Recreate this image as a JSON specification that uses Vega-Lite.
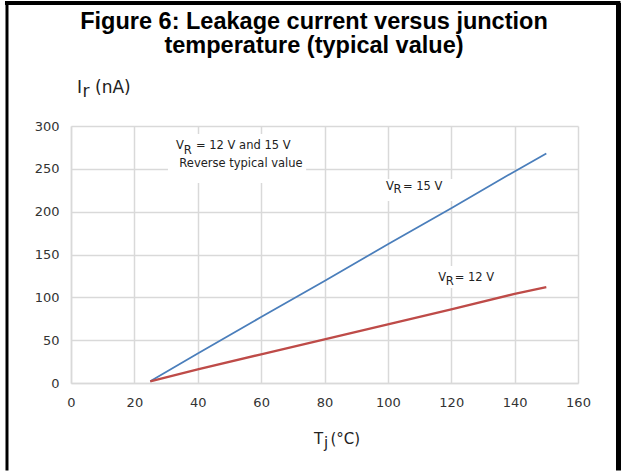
{
  "$schema": "https://vega.github.io/schema/vega-lite/v6.json",
  "width": 507,
  "height": 257,
  "padding": {"left": 4, "top": 0, "right": 0, "bottom": 0},
  "background": "white",
  "config": {
    "view": {"stroke": null},
    "font": "DejaVu Sans",
    "axis": {
      "grid": true,
      "gridColor": "#d9d9d9",
      "gridWidth": 1.5,
      "domainColor": "#d9d9d9",
      "domainWidth": 1.5,
      "ticks": false,
      "tickSize": 0,
      "labelFont": "DejaVu Sans",
      "labelFontSize": 13,
      "labelColor": "#333333",
      "labelFlush": false,
      "labelOverlap": false,
      "title": null
    },
    "axisX": {"labelPadding": 13},
    "axisY": {"labelPadding": 12}
  },
  "layer": [
    {
      "data": {"values": [{}]},
      "mark": {"type": "rule", "stroke": "black", "strokeWidth": 4, "strokeCap": "square"},
      "encoding": {
        "x": {"datum": -20.2, "type": "quantitative", "scale": {"domain": [0, 160], "nice": false}},
        "x2": {"datum": 172.78},
        "y": {"datum": 443.58, "type": "quantitative", "scale": {"domain": [0, 300], "nice": false}}
      }
    },
    {
      "data": {"values": [{}]},
      "mark": {"type": "rule", "stroke": "black", "strokeWidth": 3},
      "encoding": {
        "x": {"datum": -20.2, "type": "quantitative", "scale": {"domain": [0, 160], "nice": false}},
        "y": {"datum": 443.58, "type": "quantitative", "scale": {"domain": [0, 300], "nice": false}},
        "y2": {"datum": -102}
      }
    },
    {
      "data": {"values": [{}]},
      "mark": {"type": "rule", "stroke": "black", "strokeWidth": 5},
      "encoding": {
        "x": {"datum": 172.78, "type": "quantitative", "scale": {"domain": [0, 160], "nice": false}},
        "y": {"datum": 443.58, "type": "quantitative", "scale": {"domain": [0, 300], "nice": false}},
        "y2": {"datum": -102}
      }
    },
    {
      "data": {"values": [{}]},
      "mark": {"type": "rect", "fill": "white", "stroke": null},
      "encoding": {
        "x": {"datum": 30.6, "type": "quantitative", "scale": {"domain": [0, 160], "nice": false}},
        "x2": {"datum": 74.2},
        "y": {"datum": 290.7, "type": "quantitative", "scale": {"domain": [0, 300], "nice": false}},
        "y2": {"datum": 233.5}
      }
    },
    {
      "data": {"values": [{}]},
      "mark": {"type": "rect", "fill": "white", "stroke": null},
      "encoding": {
        "x": {"datum": 97.8, "type": "quantitative", "scale": {"domain": [0, 160], "nice": false}},
        "x2": {"datum": 121.5},
        "y": {"datum": 238.1, "type": "quantitative", "scale": {"domain": [0, 300], "nice": false}},
        "y2": {"datum": 212.4}
      }
    },
    {
      "data": {"values": [{}]},
      "mark": {"type": "rect", "fill": "white", "stroke": null},
      "encoding": {
        "x": {"datum": 114.2, "type": "quantitative", "scale": {"domain": [0, 160], "nice": false}},
        "x2": {"datum": 137.3},
        "y": {"datum": 136.6, "type": "quantitative", "scale": {"domain": [0, 300], "nice": false}},
        "y2": {"datum": 110.9}
      }
    },
    {
      "data": {
        "values": [
          {"series": "15 V", "T": 25, "I": 2},
          {"series": "15 V", "T": 40, "I": 34.5},
          {"series": "15 V", "T": 60, "I": 77},
          {"series": "15 V", "T": 80, "I": 119},
          {"series": "15 V", "T": 100, "I": 162},
          {"series": "15 V", "T": 120, "I": 204},
          {"series": "15 V", "T": 140, "I": 247},
          {"series": "15 V", "T": 150, "I": 268},
          {"series": "12 V", "T": 25, "I": 2},
          {"series": "12 V", "T": 40, "I": 16},
          {"series": "12 V", "T": 60, "I": 33.5},
          {"series": "12 V", "T": 80, "I": 51},
          {"series": "12 V", "T": 100, "I": 68.5},
          {"series": "12 V", "T": 120, "I": 86},
          {"series": "12 V", "T": 140, "I": 104},
          {"series": "12 V", "T": 150, "I": 112}
        ]
      },
      "mark": {"type": "line", "strokeCap": "butt"},
      "encoding": {
        "x": {
          "field": "T", "type": "quantitative",
          "scale": {"domain": [0, 160], "nice": false},
          "axis": {"values": [0, 20, 40, 60, 80, 100, 120, 140, 160]}
        },
        "y": {
          "field": "I", "type": "quantitative",
          "scale": {"domain": [0, 300], "nice": false},
          "axis": {"values": [0, 50, 100, 150, 200, 250, 300]}
        },
        "color": {
          "field": "series", "type": "nominal",
          "scale": {"domain": ["15 V", "12 V"], "range": ["#4a7ebb", "#be4b48"]},
          "legend": null
        },
        "strokeWidth": {
          "field": "series", "type": "nominal",
          "scale": {"domain": ["15 V", "12 V"], "range": [1.75, 2.25]},
          "legend": null
        }
      }
    },
    {
      "data": {"values": [{}]},
      "mark": {"type": "text", "text": "Figure 6: Leakage current versus junction", "font": "Liberation Sans", "fontSize": 23.5, "fontWeight": "bold", "color": "black", "align": "center", "baseline": "alphabetic", "dx": -10.5, "dy": -97},
      "encoding": {
        "x": {"datum": 80, "type": "quantitative", "scale": {"domain": [0, 160], "nice": false}},
        "y": {"datum": 300, "type": "quantitative", "scale": {"domain": [0, 300], "nice": false}}
      }
    },
    {
      "data": {"values": [{}]},
      "mark": {"type": "text", "text": "temperature (typical value)", "font": "Liberation Sans", "fontSize": 23.5, "fontWeight": "bold", "color": "black", "align": "center", "baseline": "alphabetic", "dx": -10.5, "dy": -73},
      "encoding": {
        "x": {"datum": 80, "type": "quantitative", "scale": {"domain": [0, 160], "nice": false}},
        "y": {"datum": 300, "type": "quantitative", "scale": {"domain": [0, 300], "nice": false}}
      }
    },
    {
      "data": {"values": [{}]},
      "mark": {"type": "text", "text": "I", "fontSize": 17, "color": "#222222", "align": "left", "baseline": "alphabetic", "dx": 6, "dy": -33.3},
      "encoding": {
        "x": {"datum": 0, "type": "quantitative", "scale": {"domain": [0, 160], "nice": false}},
        "y": {"datum": 300, "type": "quantitative", "scale": {"domain": [0, 300], "nice": false}}
      }
    },
    {
      "data": {"values": [{}]},
      "mark": {"type": "text", "text": "r", "fontSize": 17, "color": "#222222", "align": "left", "baseline": "alphabetic", "dx": 11.5, "dy": -29},
      "encoding": {
        "x": {"datum": 0, "type": "quantitative", "scale": {"domain": [0, 160], "nice": false}},
        "y": {"datum": 300, "type": "quantitative", "scale": {"domain": [0, 300], "nice": false}}
      }
    },
    {
      "data": {"values": [{}]},
      "mark": {"type": "text", "text": "(nA)", "fontSize": 17, "color": "#222222", "align": "left", "baseline": "alphabetic", "dx": 24, "dy": -33.3},
      "encoding": {
        "x": {"datum": 0, "type": "quantitative", "scale": {"domain": [0, 160], "nice": false}},
        "y": {"datum": 300, "type": "quantitative", "scale": {"domain": [0, 300], "nice": false}}
      }
    },
    {
      "data": {"values": [{}]},
      "mark": {"type": "text", "text": "T", "fontSize": 15, "color": "#222222", "align": "left", "baseline": "alphabetic", "dx": -10.5, "dy": 61},
      "encoding": {
        "x": {"datum": 80, "type": "quantitative", "scale": {"domain": [0, 160], "nice": false}},
        "y": {"datum": 0, "type": "quantitative", "scale": {"domain": [0, 300], "nice": false}}
      }
    },
    {
      "data": {"values": [{}]},
      "mark": {"type": "text", "text": "j", "fontSize": 15, "color": "#222222", "align": "left", "baseline": "alphabetic", "dx": -0.5, "dy": 64.5},
      "encoding": {
        "x": {"datum": 80, "type": "quantitative", "scale": {"domain": [0, 160], "nice": false}},
        "y": {"datum": 0, "type": "quantitative", "scale": {"domain": [0, 300], "nice": false}}
      }
    },
    {
      "data": {"values": [{}]},
      "mark": {"type": "text", "text": "(°C)", "fontSize": 15, "color": "#222222", "align": "left", "baseline": "alphabetic", "dx": 6, "dy": 61},
      "encoding": {
        "x": {"datum": 80, "type": "quantitative", "scale": {"domain": [0, 160], "nice": false}},
        "y": {"datum": 0, "type": "quantitative", "scale": {"domain": [0, 300], "nice": false}}
      }
    },
    {
      "data": {"values": [{}]},
      "mark": {"type": "text", "text": "V", "fontSize": 11.5, "color": "#222222", "align": "left", "baseline": "alphabetic"},
      "encoding": {
        "x": {"datum": 33.14, "type": "quantitative", "scale": {"domain": [0, 160], "nice": false}},
        "y": {"datum": 272.8, "type": "quantitative", "scale": {"domain": [0, 300], "nice": false}}
      }
    },
    {
      "data": {"values": [{}]},
      "mark": {"type": "text", "text": "R", "fontSize": 11.5, "color": "#222222", "align": "left", "baseline": "alphabetic", "dx": 7.7, "dy": 4.5},
      "encoding": {
        "x": {"datum": 33.14, "type": "quantitative", "scale": {"domain": [0, 160], "nice": false}},
        "y": {"datum": 272.8, "type": "quantitative", "scale": {"domain": [0, 300], "nice": false}}
      }
    },
    {
      "data": {"values": [{}]},
      "mark": {"type": "text", "text": "= 12 V and 15 V", "fontSize": 11.5, "color": "#222222", "align": "left", "baseline": "alphabetic", "dx": 20},
      "encoding": {
        "x": {"datum": 33.14, "type": "quantitative", "scale": {"domain": [0, 160], "nice": false}},
        "y": {"datum": 272.8, "type": "quantitative", "scale": {"domain": [0, 300], "nice": false}}
      }
    },
    {
      "data": {"values": [{}]},
      "mark": {"type": "text", "text": "Reverse typical value", "fontSize": 11.5, "color": "#222222", "align": "center", "baseline": "alphabetic", "dx": 65, "dy": 17.7},
      "encoding": {
        "x": {"datum": 33.14, "type": "quantitative", "scale": {"domain": [0, 160], "nice": false}},
        "y": {"datum": 272.8, "type": "quantitative", "scale": {"domain": [0, 300], "nice": false}}
      }
    },
    {
      "data": {"values": [{}]},
      "mark": {"type": "text", "text": "V", "fontSize": 11.5, "color": "#222222", "align": "left", "baseline": "alphabetic"},
      "encoding": {
        "x": {"datum": 99.41, "type": "quantitative", "scale": {"domain": [0, 160], "nice": false}},
        "y": {"datum": 225.3, "type": "quantitative", "scale": {"domain": [0, 300], "nice": false}}
      }
    },
    {
      "data": {"values": [{}]},
      "mark": {"type": "text", "text": "R", "fontSize": 11.5, "color": "#222222", "align": "left", "baseline": "alphabetic", "dx": 7.5, "dy": 3.5},
      "encoding": {
        "x": {"datum": 99.41, "type": "quantitative", "scale": {"domain": [0, 160], "nice": false}},
        "y": {"datum": 225.3, "type": "quantitative", "scale": {"domain": [0, 300], "nice": false}}
      }
    },
    {
      "data": {"values": [{}]},
      "mark": {"type": "text", "text": "= 15 V", "fontSize": 11.5, "color": "#222222", "align": "left", "baseline": "alphabetic", "dx": 17},
      "encoding": {
        "x": {"datum": 99.41, "type": "quantitative", "scale": {"domain": [0, 160], "nice": false}},
        "y": {"datum": 225.3, "type": "quantitative", "scale": {"domain": [0, 300], "nice": false}}
      }
    },
    {
      "data": {"values": [{}]},
      "mark": {"type": "text", "text": "V", "fontSize": 11.5, "color": "#222222", "align": "left", "baseline": "alphabetic"},
      "encoding": {
        "x": {"datum": 115.9, "type": "quantitative", "scale": {"domain": [0, 160], "nice": false}},
        "y": {"datum": 119.07, "type": "quantitative", "scale": {"domain": [0, 300], "nice": false}}
      }
    },
    {
      "data": {"values": [{}]},
      "mark": {"type": "text", "text": "R", "fontSize": 11.5, "color": "#222222", "align": "left", "baseline": "alphabetic", "dx": 7.5, "dy": 4},
      "encoding": {
        "x": {"datum": 115.9, "type": "quantitative", "scale": {"domain": [0, 160], "nice": false}},
        "y": {"datum": 119.07, "type": "quantitative", "scale": {"domain": [0, 300], "nice": false}}
      }
    },
    {
      "data": {"values": [{}]},
      "mark": {"type": "text", "text": "= 12 V", "fontSize": 11.5, "color": "#222222", "align": "left", "baseline": "alphabetic", "dx": 16.5},
      "encoding": {
        "x": {"datum": 115.9, "type": "quantitative", "scale": {"domain": [0, 160], "nice": false}},
        "y": {"datum": 119.07, "type": "quantitative", "scale": {"domain": [0, 300], "nice": false}}
      }
    }
  ]
}
